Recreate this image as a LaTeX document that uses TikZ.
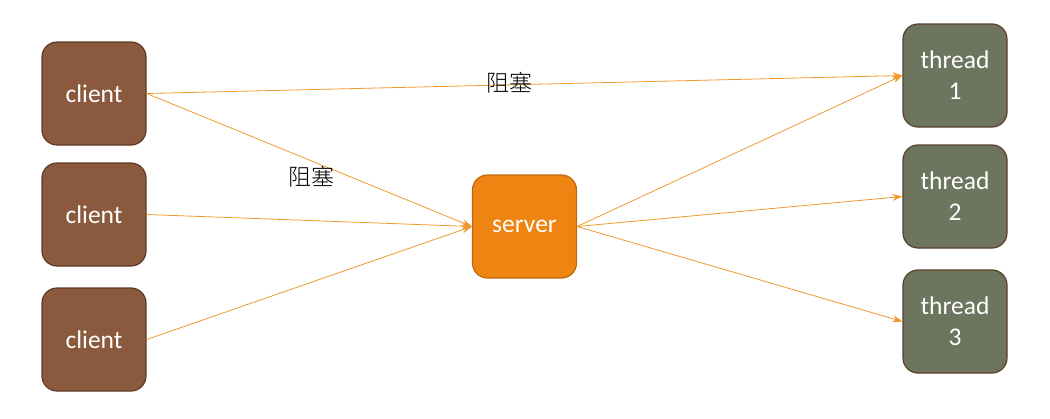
\documentclass[tikz,border=0pt]{standalone}
\usepackage{fontspec}
\setmainfont{Carlito}
\newfontfamily\cjk{Noto Sans CJK SC}[UprightFont=* Light]
\usetikzlibrary{arrows.meta}
\definecolor{clientfill}{HTML}{8B5A3E}
\definecolor{clientdraw}{HTML}{5E3B28}
\definecolor{serverfill}{HTML}{EE8512}
\definecolor{serverdraw}{HTML}{C06810}
\definecolor{threadfill}{HTML}{6D755F}
\definecolor{threaddraw}{HTML}{5A3E2C}
\definecolor{edgecol}{HTML}{F0982E}
\tikzset{
  box/.style={rounded corners=15pt, minimum width=104pt, minimum height=103pt, line width=1.2pt, text=white, align=center, font=\fontsize{25.5}{31}\selectfont, inner sep=0pt},
  clientbox/.style={box, fill=clientfill, draw=clientdraw},
  serverbox/.style={box, fill=serverfill, draw=serverdraw},
  threadbox/.style={box, fill=threadfill, draw=threaddraw},
  conn/.style={draw=edgecol, line width=0.8pt, -{Stealth[length=10pt,width=7pt]}},
  lbl/.style={font=\cjk\fontsize{23}{26}\selectfont, text=black, inner sep=0pt}
}
\begin{document}
\begin{tikzpicture}[x=1pt,y=-1pt]
\useasboundingbox (0,0) rectangle (1050,418);
\node[clientbox] (c1) at (94,93.5) {client};
\node[clientbox] (c2) at (94,214.5) {client};
\node[clientbox] (c3) at (94,339.5) {client};
\node[serverbox] (s) at (524.5,226.5) {server};
\node[threadbox] (t1) at (955,75.5) {thread\\1};
\node[threadbox] (t2) at (955,196.5) {thread\\2};
\node[threadbox] (t3) at (955,321.5) {thread\\3};
\draw[conn] (c1.east) -- (t1.west);
\draw[conn] (c1.east) -- (s.west);
\draw[conn] (c2.east) -- (s.west);
\draw[conn] (c3.east) -- (s.west);
\draw[conn] (s.east) -- (t1.west);
\draw[conn] (s.east) -- (t2.west);
\draw[conn] (s.east) -- (t3.west);
\node[lbl] (l1) at (311,177) {阻塞};
\node[lbl] (l2) at (509,83) {阻塞};
\end{tikzpicture}
\end{document}
